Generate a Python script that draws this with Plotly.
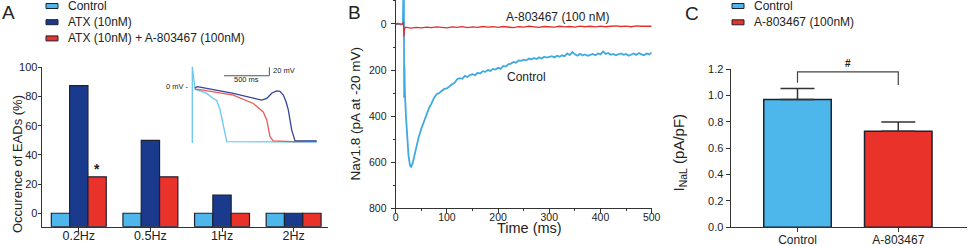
import plotly.graph_objects as go

# ---------------- DATA ----------------
# Panel A: occurrence of EADs (%)
a_categories = ["0.2Hz", "0.5Hz", "1Hz", "2Hz"]
a_series_names = ["Control", "ATX (10nM)", "ATX (10nM) + A-803467 (100nM)"]
a_control = [0, 0, 0, 0]
a_atx = [87.5, 50, 12.5, 0]
a_atx_a803 = [25, 25, 0, 0]
a_yticks = [0, 20, 40, 60, 80, 100]

# Panel A inset: action potentials (time ms, voltage mV)
ap_ctrl_t = [0, 0, 30, 85, 159, 232, 269, 306, 342, 380, 1372]
ap_ctrl_v = [-134, 47, -6, -10, -16, -28, -33, -55, -95, -131, -132]
ap_red_t = [30, 85, 452, 673, 783, 821, 857, 893, 1114, 1372]
ap_red_v = [-6, -7, -20, -40, -60, -79, -119, -129, -131, -130]
ap_atx_t = [30, 52, 85, 452, 765, 821, 879, 931, 967, 1004, 1034, 1059, 1096, 1133, 1372]
ap_atx_v = [-3, 0, -1, -16, -32, -28, -15, -10, -11, -20, -36, -55, -103, -129, -129]

# Panel B: Nav1.8 current traces (pA at -20 mV)
b_ctrl_t = [0, 5, 10, 14, 15, 16, 16.5, 17, 18, 20, 22, 25, 28, 30, 33, 36, 40, 45, 50,
            55, 60, 65, 70, 75, 80, 85, 90, 95, 100, 105, 110, 115, 120, 125, 130, 135,
            140, 145, 150, 155, 160, 165, 170, 175, 180, 185, 190, 195, 200, 205, 210,
            215, 220, 225, 230, 235, 240, 245, 250, 255, 260, 265, 270, 275, 280, 285,
            290, 295, 300, 305, 310, 315, 320, 325, 330, 335, 340, 345, 350, 355, 360,
            365, 370, 375, 380, 385, 390, 395, 400, 405, 410, 415, 420, 425, 430, 435,
            440, 445, 450, 455, 460, 465, 470, 475, 480, 485, 490, 495, 500]
b_ctrl_i = [2, 0, 3, 0, -130, -130, 320, 180, 300, 400, 470, 570, 615, 620, 605, 575, 535,
            490, 455, 425, 395, 365, 345, 320, 305, 300, 290, 282, 280, 270, 262, 255,
            240, 235, 238, 225, 230, 222, 218, 222, 212, 215, 205, 208, 200, 204, 195,
            198, 190, 195, 182, 185, 175, 172, 165, 168, 158, 160, 155, 158, 150, 154,
            148, 152, 145, 150, 142, 146, 143, 140, 145, 138, 142, 136, 140, 128, 135,
            122, 132, 138, 130, 136, 132, 138, 134, 130, 136, 128, 132, 120, 130, 126,
            134, 130, 136, 132, 128, 134, 130, 138, 132, 128, 134, 126, 132, 136, 128,
            132, 124]
b_a803_t = [0, 5, 10, 14, 15, 16, 17, 19, 25, 30, 40, 50, 60, 70, 80, 90, 100, 110, 120,
            130, 140, 150, 160, 170, 180, 190, 200, 210, 220, 230, 240, 250, 260, 270,
            280, 290, 300, 310, 320, 330, 340, 350, 360, 370, 380, 390, 400, 410, 420,
            430, 440, 450, 460, 470, 480, 490, 500]
b_a803_i = [0, -2, 1, 0, -10, 55, 25, 14, 16, 18, 15, 17, 14, 16, 13, 15, 17, 13, 15, 12,
            16, 13, 15, 11, 14, 12, 15, 11, 13, 16, 12, 14, 10, 13, 15, 11, 12, 14, 10,
            13, 11, 14, 9, 12, 10, 13, 9, 12, 10, 8, 11, 9, 12, 8, 10, 9, 10]
b_xticks = [0, 100, 200, 300, 400, 500]
b_yticks = [0, 200, 400, 600, 800]

# Panel C: late sodium current
c_categories = ["Control", "A-803467"]
c_legend_names = ["Control", "A-803467 (100nM)"]
c_means = [0.97, 0.73]
c_sem = [0.085, 0.07]
c_yticks = [0.0, 0.2, 0.4, 0.6, 0.8, 1.0, 1.2]

# ---------------- STYLE ----------------
W, H = 968, 246
FONT = "Liberation Sans, Arial, Helvetica, sans-serif"
C_LBLUE = "#4DB6EA"
C_DBLUE = "#1A3A8E"
C_RED = "#E8322A"
C_EDGE = "#1c2230"
C_AXIS = "#333333"
C_TEXT = "#222222"


def px(x):
    return x / W


def py(y):
    return 1 - y / H


A_YMIN = -9.2
BARGAP = 0.233

fig = go.Figure()

for name, vals, col in zip(a_series_names, [a_control, a_atx, a_atx_a803],
                           [C_LBLUE, C_DBLUE, C_RED]):
    fig.add_trace(go.Bar(
        x=list(range(len(a_categories))), y=[v - A_YMIN for v in vals], base=A_YMIN,
        name=name, marker=dict(color=col, line=dict(color=C_EDGE, width=1.2)),
        xaxis="x", yaxis="y", showlegend=False))

fig.add_trace(go.Scatter(x=ap_ctrl_t, y=ap_ctrl_v, mode="lines",
                         line=dict(color="#6CC6F0", width=1.3), xaxis="x4", yaxis="y4",
                         showlegend=False))
fig.add_trace(go.Scatter(x=ap_red_t, y=ap_red_v, mode="lines",
                         line=dict(color="#EA5A5A", width=1.3), xaxis="x4", yaxis="y4",
                         showlegend=False))
fig.add_trace(go.Scatter(x=ap_atx_t, y=ap_atx_v, mode="lines",
                         line=dict(color="#34449A", width=1.3), xaxis="x4", yaxis="y4",
                         showlegend=False))

fig.add_trace(go.Scatter(x=b_ctrl_t, y=b_ctrl_i, mode="lines",
                         line=dict(color="#3FA9E2", width=1.8), xaxis="x2", yaxis="y2",
                         showlegend=False))
fig.add_trace(go.Scatter(x=b_a803_t, y=b_a803_i, mode="lines",
                         line=dict(color="#E0302C", width=1.3), xaxis="x2", yaxis="y2",
                         showlegend=False))

C_W = 0.67
for i, (cat, m, s, col) in enumerate(zip(c_categories, c_means, c_sem, [C_LBLUE, C_RED])):
    fig.add_trace(go.Bar(
        x=[i], y=[m], width=C_W, offset=-C_W / 2, name=c_legend_names[i],
        marker=dict(color=col, line=dict(color=C_EDGE, width=1.5)),
        error_y=dict(type="data", array=[s], arrayminus=[0], symmetric=False,
                     color="#333333", thickness=1.5, width=17),
        xaxis="x3", yaxis="y3", showlegend=False))

axis_common = dict(showline=True, linecolor=C_AXIS, linewidth=1.2, ticks="outside",
                   tickcolor=C_AXIS, tickwidth=1.2, showgrid=False, zeroline=False,
                   automargin=False,
                   tickfont=dict(family=FONT, size=11, color=C_TEXT))

fig.update_layout(
    template="none",
    width=W, height=H, autosize=False, margin=dict(l=0, r=0, t=0, b=0, pad=0),
    paper_bgcolor="white", plot_bgcolor="white",
    barmode="group", bargap=BARGAP, bargroupgap=0,
    font=dict(family=FONT, color=C_TEXT),
    xaxis=dict(axis_common, domain=[px(41.7), px(328)], anchor="y",
               range=[-0.518, 3.48], tickvals=list(range(len(a_categories))),
               ticktext=a_categories, ticklen=4, ticklabelstandoff=-7,
               tickfont=dict(family=FONT, size=12.5, color=C_TEXT)),
    yaxis=dict(axis_common, domain=[py(226.7), py(67.3)], anchor="x",
               range=[A_YMIN, 100], tickvals=a_yticks, ticklen=3, ticklabelstandoff=-2),
    xaxis2=dict(axis_common, domain=[px(395.7), px(651.7)], anchor="y2",
                range=[0, 500], tickvals=b_xticks, ticklen=4, ticklabelstandoff=-5,
                tickfont=dict(family=FONT, size=10.5, color=C_TEXT),
                minor=dict(dtick=50, ticks="outside", ticklen=2, tickcolor=C_AXIS)),
    yaxis2=dict(axis_common, domain=[py(208.3), 1], anchor="x2",
                range=[800, -104], tickvals=b_yticks, ticklen=4, ticklabelstandoff=2,
                tickfont=dict(family=FONT, size=10.5, color=C_TEXT),
                minor=dict(dtick=100, ticks="outside", ticklen=2, tickcolor=C_AXIS)),
    xaxis3=dict(axis_common, domain=[px(730.7), px(966.7)], anchor="y3",
                range=[-0.663, 1.679], tickvals=[0, 1], ticktext=c_categories, ticklen=4,
                ticklabelstandoff=-3,
                tickfont=dict(family=FONT, size=12, color=C_TEXT)),
    yaxis3=dict(axis_common, domain=[py(227.3), py(69.3)], anchor="x3",
                range=[0, 1.2], tickvals=c_yticks, tickformat=".1f", ticklen=4),
    xaxis4=dict(domain=[px(185), px(320)], anchor="y4", range=[-80.5, 1408.5],
                visible=False, showgrid=False, zeroline=False, automargin=False),
    yaxis4=dict(domain=[py(145), py(65)], anchor="x4", range=[-138.8, 51.6],
                visible=False, showgrid=False, zeroline=False, automargin=False),
)

shapes = []
annotations = []


def legend_item(x_box, y_c, color, label, size=12):
    shapes.append(dict(type="rect", xref="paper", yref="paper",
                       x0=px(x_box), x1=px(x_box + 12), y0=py(y_c + 2.5), y1=py(y_c - 2.5),
                       fillcolor=color, line=dict(color=C_EDGE, width=1)))
    annotations.append(dict(xref="paper", yref="paper", x=px(x_box + 20), y=py(y_c),
                            text=label, showarrow=False, xanchor="left", yanchor="middle",
                            font=dict(family=FONT, size=size, color=C_TEXT)))


for i, (name, col) in enumerate(zip(a_series_names, [C_LBLUE, C_DBLUE, C_RED])):
    legend_item(46, 6 + 16.2 * i, col, name)
for i, (name, col) in enumerate(zip(c_legend_names, [C_LBLUE, C_RED])):
    legend_item(732, 6 + 16.3 * i, col, name)

for letter, x, y in [("A", 8, 12), ("B", 354, 12), ("C", 692, 13)]:
    annotations.append(dict(xref="paper", yref="paper", x=px(x), y=py(y), text=letter,
                            showarrow=False, xanchor="center", yanchor="middle",
                            font=dict(family=FONT, size=19, color=C_TEXT)))

annotations.append(dict(xref="paper", yref="paper", x=px(7.5), y=py(164), textangle=-90,
                        text="Occurence of EADs (%)", showarrow=False,
                        font=dict(family=FONT, size=13, color=C_TEXT)))
annotations.append(dict(xref="paper", yref="paper", x=px(355.5), y=py(114), textangle=-90,
                        text="Nav1.8 (pA at -20 mV)", showarrow=False,
                        font=dict(family=FONT, size=13.5, color=C_TEXT)))
annotations.append(dict(xref="paper", yref="paper", x=px(529), y=py(237.5),
                        text="Time (ms)", showarrow=False,
                        font=dict(family=FONT, size=14.5, color=C_TEXT)))
annotations.append(dict(xref="paper", yref="paper", x=px(690), y=py(153), textangle=-90,
                        text="I<sub>NaL</sub> (pA/pF)", showarrow=False,
                        font=dict(family=FONT, size=15, color=C_TEXT)))

bar_w = (1 - BARGAP) / 3
annotations.append(dict(xref="x", yref="y", x=0 + bar_w, y=a_atx_a803[0], yanchor="bottom",
                        yshift=-2, text="<b>*</b>", showarrow=False,
                        font=dict(family=FONT, size=14, color=C_TEXT)))

annotations.append(dict(xref="x2", yref="y2", x=316, y=-32, text="A-803467 (100 nM)",
                        showarrow=False, font=dict(family=FONT, size=12, color=C_TEXT)))
annotations.append(dict(xref="x2", yref="y2", x=256, y=230, text="Control",
                        showarrow=False, font=dict(family=FONT, size=12, color=C_TEXT)))

shapes.append(dict(type="path", xref="x4", yref="y4", path="M 350,26 L 850,26 L 850,46",
                   line=dict(color="#555555", width=1)))
annotations.append(dict(xref="x4", yref="y4", x=870, y=38, text="20 mV", xanchor="left",
                        showarrow=False, font=dict(family=FONT, size=7.5, color=C_TEXT)))
annotations.append(dict(xref="x4", yref="y4", x=600, y=16, text="500 ms",
                        showarrow=False, font=dict(family=FONT, size=7.5, color=C_TEXT)))
annotations.append(dict(xref="x4", yref="y4", x=-15, y=0, text="0 mV -", xanchor="right",
                        showarrow=False, font=dict(family=FONT, size=7.5, color=C_TEXT)))

BR_TOP = 1.18
shapes.append(dict(type="path", xref="x3", yref="y3",
                   path=f"M 0,{c_means[0] + c_sem[0] + 0.042} L 0,{BR_TOP} "
                        f"L 1,{BR_TOP} L 1,{BR_TOP - 0.1}",
                   line=dict(color="#444444", width=1.2)))
annotations.append(dict(xref="x3", yref="y3", x=0.5, y=BR_TOP, yanchor="bottom", yshift=1,
                        text="<b>#</b>", showarrow=False,
                        font=dict(family=FONT, size=10, color=C_TEXT)))

fig.update_layout(shapes=shapes, annotations=annotations)

fig.write_html(
    "out.html",
    config={"displayModeBar": False, "responsive": False},
    post_script=(
        "document.documentElement.style.margin='0';"
        "document.body.style.margin='0';document.body.style.padding='0';"
        "document.body.style.overflow='hidden';"
        "var gd=document.getElementById('{plot_id}');"
        "gd.style.position='fixed';gd.style.left='0px';gd.style.top='0px';"
    ),
)
